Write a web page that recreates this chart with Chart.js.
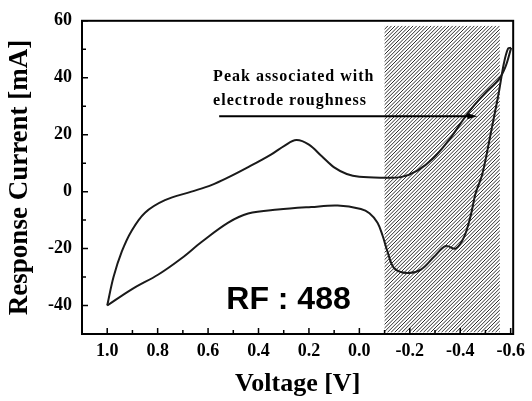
<!DOCTYPE html>
<html>
<head>
<meta charset="utf-8">
<script src="https://cdn.jsdelivr.net/npm/chart.js@4"></script>
<style>
  html, body { margin: 0; padding: 0; background: #fff; }
  canvas { display: block; }
</style>
</head>
<body>
<canvas id="cv" width="532" height="401"></canvas>
<script>
// forward sweep, 1.0 V -> -0.6 V (upper branch)
const forwardV = [1.0, 0.975, 0.942, 0.903, 0.85, 0.771, 0.666, 0.587, 0.52, 0.441, 0.349, 0.296, 0.25, 0.2, 0.15, 0.1, 0.05, 0.0, -0.092, -0.164, -0.23, -0.296, -0.362, -0.415, -0.455, -0.507, -0.553, -0.58, -0.602];
const forwardI = [-40, -30, -21, -13.7, -7.4, -3, 0, 2.3, 5, 8.6, 13.1, 16.2, 18.1, 16.5, 12.5, 8.5, 6.2, 5.2, 4.9, 5.1, 7.4, 12, 18.9, 25.7, 30.3, 35.4, 39.4, 44, 50.5];
// reverse sweep, -0.6 V -> 1.0 V (lower branch)
const reverseV = [-0.602, -0.59, -0.573, -0.553, -0.52, -0.488, -0.461, -0.441, -0.415, -0.382, -0.342, -0.296, -0.244, -0.191, -0.138, -0.112, -0.092, -0.072, -0.04, -0.006, 0.086, 0.191, 0.323, 0.441, 0.52, 0.626, 0.705, 0.797, 0.903, 1.0];
const reverseI = [50.5, 50.3, 45, 34.8, 20, 6.3, -0.6, -8.6, -16, -20, -19.1, -22.9, -27.4, -28.6, -26.9, -21.2, -15.4, -10.9, -7.6, -6.1, -4.9, -5.4, -6.3, -7.7, -10.9, -17.7, -23.4, -29.1, -34.3, -40];

const xTicks = [1.0, 0.8, 0.6, 0.4, 0.2, 0.0, -0.2, -0.4, -0.6];
const yTicks = [-40, -20, 0, 20, 40, 60];

// annotations, in data units
const hatchV = [-0.1, -0.557];
const hatchI = [-49.5, 58.3];
const arrowV = [0.556, -0.468];
const arrowI = 26.5;
const noteV = 0.58;
const noteI = [40.2, 31.8];
const noteLines = ["Peak associated with", "electrode roughness"];
const rfV = 0.281, rfI = -38;
const rfLabel = "RF : 488";

function toPoints(xs, ys) {
  return xs.map((x, k) => ({ x: x, y: ys[k] }));
}

function mids(vals) {
  const out = [];
  for (let k = 0; k < vals.length - 1; k++) out.push((vals[k] + vals[k + 1]) / 2);
  return out;
}

const decor = {
  id: "decor",
  beforeDatasetsDraw(chart) {
    const { ctx, scales: { x, y } } = chart;
    const l = x.getPixelForValue(hatchV[0]), r = x.getPixelForValue(hatchV[1]);
    const t = y.getPixelForValue(hatchI[1]), b = y.getPixelForValue(hatchI[0]);
    const h = b - t;
    ctx.save();
    ctx.beginPath();
    ctx.rect(l, t, r - l, h);
    ctx.clip();
    ctx.strokeStyle = "#2e2e2e";
    ctx.lineWidth = 1;
    ctx.beginPath();
    for (let s = l - h; s < r; s += 3.6) {
      ctx.moveTo(s, b);
      ctx.lineTo(s + h, t);
    }
    ctx.stroke();
    ctx.restore();
  },
  afterDatasetsDraw(chart) {
    const { ctx, chartArea: a, scales: { x, y } } = chart;
    ctx.save();
    // frame
    ctx.strokeStyle = "#000";
    ctx.lineWidth = 2;
    ctx.strokeRect(a.left, a.top, a.right - a.left, a.bottom - a.top);
    // inward ticks
    ctx.lineWidth = 1.5;
    ctx.beginPath();
    xTicks.forEach(v => { const p = x.getPixelForValue(v); ctx.moveTo(p, a.bottom); ctx.lineTo(p, a.bottom - 6); });
    mids(xTicks).forEach(v => { const p = x.getPixelForValue(v); ctx.moveTo(p, a.bottom); ctx.lineTo(p, a.bottom - 4); });
    yTicks.forEach(v => { const p = y.getPixelForValue(v); ctx.moveTo(a.left, p); ctx.lineTo(a.left + 6, p); });
    mids(yTicks).concat([-50]).forEach(v => { const p = y.getPixelForValue(v); ctx.moveTo(a.left, p); ctx.lineTo(a.left + 4, p); });
    ctx.stroke();

    // arrow
    const x0 = x.getPixelForValue(arrowV[0]), x1 = x.getPixelForValue(arrowV[1]);
    const ay = y.getPixelForValue(arrowI);
    ctx.lineWidth = 2;
    ctx.beginPath();
    ctx.moveTo(x0, ay);
    ctx.lineTo(x1 - 6, ay);
    ctx.stroke();
    ctx.fillStyle = "#000";
    ctx.beginPath();
    ctx.moveTo(x1, ay);
    ctx.lineTo(x1 - 10, ay - 3);
    ctx.lineTo(x1 - 10, ay + 3);
    ctx.closePath();
    ctx.fill();

    // note text
    ctx.font = "bold 16px 'Liberation Serif', serif";
    ctx.letterSpacing = "1px";
    ctx.textAlign = "left";
    ctx.textBaseline = "middle";
    noteLines.forEach((s, k) => ctx.fillText(s, x.getPixelForValue(noteV), y.getPixelForValue(noteI[k])));

    // RF label
    ctx.letterSpacing = "0px";
    ctx.font = "bold 32px 'Liberation Sans', Arial, sans-serif";
    ctx.textAlign = "center";
    ctx.fillText(rfLabel, x.getPixelForValue(rfV), y.getPixelForValue(rfI));
    ctx.restore();
  }
};

const serif = "'Liberation Serif', 'Times New Roman', serif";

new Chart(document.getElementById("cv"), {
  type: "scatter",
  data: {
    datasets: [
      { data: toPoints(forwardV, forwardI) },
      { data: toPoints(reverseV, reverseI) }
    ]
  },
  options: {
    responsive: false,
    animation: false,
    devicePixelRatio: 1,
    layout: { padding: { left: 0, right: 16, top: 13, bottom: 0 } },
    elements: {
      point: { radius: 0 },
      line: { borderColor: "#1a1a1a", borderWidth: 2, tension: 0.35 }
    },
    datasets: { scatter: { showLine: true } },
    plugins: { legend: { display: false }, tooltip: { enabled: false } },
    scales: {
      x: {
        type: "linear",
        reverse: true,
        min: -0.61,
        max: 1.1,
        afterBuildTicks: s => { s.ticks = xTicks.map(v => ({ value: v })); },
        afterFit: s => { s.height = 67; },
        grid: { display: false, drawTicks: false },
        border: { display: false },
        ticks: {
          padding: 7,
          color: "#000",
          font: { family: serif, size: 18, weight: "bold" },
          callback: v => v.toFixed(1)
        },
        title: {
          display: true,
          text: "Voltage [V]",
          color: "#000",
          padding: { top: 0, bottom: 1 },
          font: { family: serif, size: 26, weight: "bold", lineHeight: 1.2 }
        }
      },
      y: {
        min: -50,
        max: 60,
        afterBuildTicks: s => { s.ticks = yTicks.map(v => ({ value: v })); },
        afterFit: s => { s.width = 82; },
        grid: { display: false, drawTicks: false },
        border: { display: false },
        ticks: {
          padding: 10,
          color: "#000",
          font: { family: serif, size: 18, weight: "bold" }
        },
        title: {
          display: true,
          text: "Response Current [mA]",
          color: "#000",
          padding: { top: 4, bottom: 0 },
          font: { family: serif, size: 27, weight: "bold", lineHeight: 1.2 }
        }
      }
    }
  },
  plugins: [decor]
});
</script>
</body>
</html>
